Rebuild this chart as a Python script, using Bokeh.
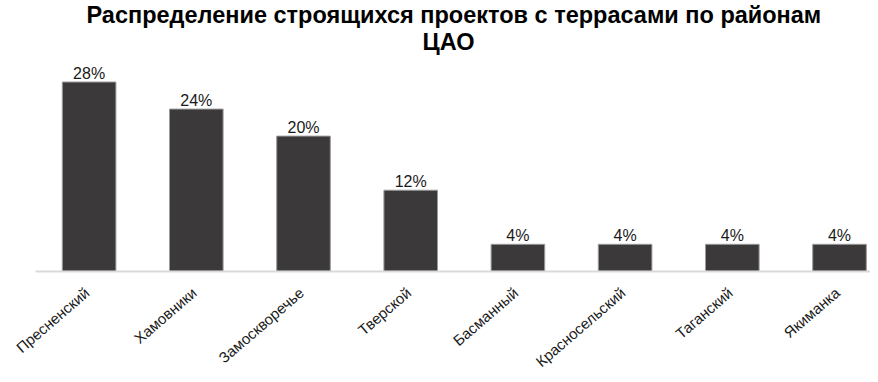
import math
from bokeh.plotting import figure
from bokeh.models import ColumnDataSource, LabelSet, Range1d, Title, FixedTicker
from bokeh.core.properties import value
from bokeh.embed import file_html
from bokeh.resources import INLINE

categories = ["Пресненский", "Хамовники", "Замоскворечье", "Тверской",
              "Басманный", "Красносельский", "Таганский", "Якиманка"]
shares = [28, 24, 20, 12, 4, 4, 4, 4]
value_labels = ["28%", "24%", "20%", "12%", "4%", "4%", "4%", "4%"]
title_line1 = "Распределение строящихся проектов с террасами по районам"
title_line2 = "ЦАО"

positions = list(range(len(categories)))
src = ColumnDataSource(dict(x=positions, y=shares, lab=value_labels,
                            cat=categories, base=[0] * len(categories)))

FONT = "Liberation Sans"

p = figure(width=870, height=374, output_backend="svg", toolbar_location=None,
           x_range=Range1d(-0.8265, 7.289), y_range=Range1d(-15.25, 32.07),
           min_border_left=0, min_border_right=0, min_border_top=0, min_border_bottom=0)

p.title.text = title_line1
p.title.align = "left"
p.title.offset = 86
p.title.text_font = FONT
p.title.text_font_size = "23.5px"
p.title.text_font_style = "bold"
p.title.text_color = "#000000"
p.title.standoff = -2
p.add_layout(Title(text=title_line2, align="left", offset=422, text_font=FONT,
                   text_font_size="23.5px", text_font_style="bold",
                   text_color="#000000", standoff=0), "above")

p.vbar(x="x", top="y", width=0.5, source=src, fill_color="#3b393a",
       line_color="#9a9a9a", line_width=1)

p.add_layout(LabelSet(x="x", y="y", text="lab", source=src, text_align="center",
                      text_baseline="alphabetic", y_offset=3, text_font=value(FONT),
                      text_font_size=value("16px"), text_color="#1a1a1a"))

# category labels (rotated), anchored at each category position on the baseline
p.add_layout(LabelSet(x="x", y="base", text="cat", source=src, angle=0.71,
                      text_align="right", text_baseline="middle", x_offset=-2, y_offset=-19,
                      text_font=value(FONT), text_font_size=value("15px"),
                      text_color="#1a1a1a"))

p.yaxis.visible = False
p.xgrid.visible = False
p.ygrid.visible = False
p.outline_line_color = None

ax = p.xaxis[0]
ax.fixed_location = 0
ax.bounds = (-0.5, 7.5)
ax.ticker = FixedTicker(ticks=[])
ax.major_label_text_font_size = "0px"
ax.major_tick_line_color = None
ax.minor_tick_line_color = None
ax.axis_line_color = "#d9d9d9"
ax.axis_line_width = 2

open("out.html", "w").write(file_html(p, INLINE))
